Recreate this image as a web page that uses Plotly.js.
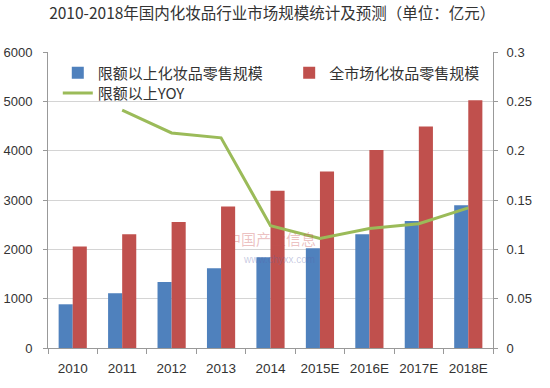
<!DOCTYPE html>
<html>
<head>
<meta charset="utf-8">
<script src="https://cdn.plot.ly/plotly-3.0.1.min.js"></script>
<style>html,body{margin:0;padding:0;background:#fff;}#chart{width:550px;height:388px;}</style>
</head>
<body>
<div id="chart"></div>
<script>
var categories = ["2010","2011","2012","2013","2014","2015E","2016E","2017E","2018E"];
var aboveQuota = [886, 1110, 1339, 1617, 1840, 2020, 2306, 2576, 2894];
var wholeMarket = [2055, 2306, 2556, 2866, 3185, 3576, 4016, 4489, 5020];
var yoyCategories = ["2011","2012","2013","2014","2015E","2016E","2017E","2018E"];
var yoy = [0.241, 0.218, 0.213, 0.124, 0.111, 0.121, 0.126, 0.142];
var leftTicks = [0, 1000, 2000, 3000, 4000, 5000, 6000];
var rightTicks = [0, 0.05, 0.1, 0.15, 0.2, 0.25, 0.3];
var rightTickText = ["0", "0.05", "0.1", "0.15", "0.2", "0.25", "0.3"];

var font = "'Noto Sans CJK SC', 'Noto Sans', sans-serif";
var numFont = "'Liberation Sans', Arial, sans-serif";
var traces = [
  {type: "bar", name: "限额以上化妆品零售规模", x: categories, y: aboveQuota,
   marker: {color: "#4f81bd"}, legend: "legend"},
  {type: "bar", name: "全市场化妆品零售规模", x: categories, y: wholeMarket,
   marker: {color: "#c0504d"}, legend: "legend2"},
  {type: "scatter", mode: "lines", name: "限额以上YOY", x: yoyCategories, y: yoy,
   yaxis: "y2", line: {color: "#9bbb59", width: 3}, legend: "legend3"}
];
var legendFont = {family: font, size: 15, color: "#333"};
function leg(x, y) {
  return {orientation: "v", x: x, y: y, xanchor: "left", yanchor: "middle",
          bgcolor: "rgba(0,0,0,0)", font: legendFont, itemwidth: 30};
}
var layout = {
  width: 550, height: 388,
  margin: {l: 48, r: 57, t: 52, b: 40},
  paper_bgcolor: "#fff", plot_bgcolor: "#fff",
  font: {family: font, size: 12, color: "#333"},
  title: {text: "2010-2018年国内化妆品行业市场规模统计及预测（单位：亿元）",
          font: {family: font, size: 15.5, color: "#333"},
          x: 0.495, xanchor: "center", y: 0.966, yanchor: "middle"},
  barmode: "group", bargap: 0.43, bargroupgap: 0,
  showlegend: true,
  legend: leg(0.022, 0.929),
  legend2: leg(0.542, 0.929),
  legend3: leg(0.022, 0.861),
  xaxis: {type: "category", tickson: "boundaries", ticks: "outside", ticklen: 5,
          tickcolor: "#999", showline: true, linecolor: "#999", linewidth: 1,
          ticklabelstandoff: 8,
          tickfont: {family: numFont, size: 13.5, color: "#333"}, fixedrange: true},
  yaxis: {range: [0, 6000], tickvals: leftTicks, ticks: "outside", ticklen: 4,
          tickcolor: "#999", showline: true, linecolor: "#999", gridcolor: "#d4d4d4",
          ticklabelstandoff: 8,
          zeroline: false, tickfont: {family: numFont, size: 13, color: "#333"}},
  yaxis2: {range: [0, 0.3], overlaying: "y", side: "right", tickvals: rightTicks,
           ticktext: rightTickText, ticks: "outside", ticklen: 4, tickcolor: "#999",
           ticklabelstandoff: 6,
           showline: true, linecolor: "#999", showgrid: false, zeroline: false,
           tickfont: {family: numFont, size: 13, color: "#333"}},
  annotations: [
    {text: "中国产业信息", x: 0.5, y: 0.37, xref: "paper", yref: "paper", showarrow: false,
     font: {family: font, size: 15, color: "rgba(200,80,80,0.35)"}},
    {text: "www.chyxx.com", x: 0.52, y: 0.275, xref: "paper", yref: "paper", showarrow: false,
     font: {family: numFont, size: 10, color: "rgba(90,100,170,0.35)"}}
  ]
};
Plotly.newPlot("chart", traces, layout, {displayModeBar: false, staticPlot: true});
</script>
</body>
</html>
